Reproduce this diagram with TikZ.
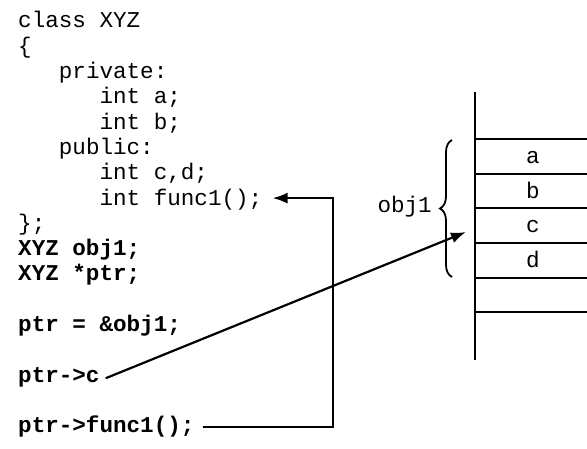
\documentclass[tikz,border=0pt]{standalone}
\usepackage{fontspec}
\setmonofont{Liberation Mono}
\usetikzlibrary{arrows.meta,decorations.pathreplacing}
\begin{document}
\begin{tikzpicture}[x=1pt,y=-1pt,
  code/.style={font=\ttfamily\fontsize{22.6}{24}\selectfont, anchor=base west, inner sep=0pt},
  codeb/.style={code, font=\ttfamily\bfseries\fontsize{22.6}{24}\selectfont},
  cell/.style={font=\ttfamily\fontsize{22.6}{24}\selectfont, anchor=base, inner sep=0pt},
  mem/.style={line width=1.6pt},
  conn/.style={line width=2.2pt, -{Latex[length=15pt,width=11pt]}}]
\useasboundingbox (0,0) rectangle (587,449);
% code listing
\node[code] (l1) at (18,28) {class XYZ};
\node[code] (l2) at (18,53.3) {\{};
\node[code] (l3) at (18,78.6) {\ \ \ private:};
\node[code] (l4) at (18,103.9) {\ \ \ \ \ \ int a;};
\node[code] (l5) at (18,129.2) {\ \ \ \ \ \ int b;};
\node[code] (l6) at (18,154.5) {\ \ \ public:};
\node[code] (l7) at (18,179.8) {\ \ \ \ \ \ int c,d;};
\node[code] (l8) at (18,205.1) {\ \ \ \ \ \ int func1();};
\node[code] (l9) at (18,230.4) {\};};
\node[codeb] (l10) at (18,255.7) {XYZ obj1;};
\node[codeb] (l11) at (18,281) {XYZ *ptr;};
\node[codeb] (l12) at (18,331.6) {ptr = \&obj1;};
\node[codeb] (ptrc) at (18,382.2) {ptr->c};
\node[codeb] (ptrf) at (18,432.8) {ptr->func1();};
% memory
\draw[mem] (475,92) -- (475,360);
\foreach \yy in {139,174,208,243,278,312}
  \draw[mem] (475,\yy) -- (587,\yy);
\node[cell] (ca) at (533,164) {a};
\node[cell] (cb) at (533,199) {b};
\node[cell] (cc) at (533,233) {c};
\node[cell] (cd) at (533,268) {d};
\node[font=\ttfamily\fontsize{22.6}{24}\selectfont, anchor=east, inner sep=0pt] (obj) at (432,207) {obj1};
\draw[line width=1.8pt, decorate, decoration={brace, amplitude=12pt}] (452,277) -- (452,140);
% connectors
\coordinate (ctip) at (466,232);
\draw[conn] ([xshift=6pt,yshift=4pt]ptrc.base east) -- (ctip);
\coordinate (fx) at (333,0);
\draw[conn] ([xshift=8pt,yshift=6pt]ptrf.base east) -| ([yshift=7pt]fx |- l8.base) -- ([xshift=10pt,yshift=7pt]l8.base east);
\end{tikzpicture}
\end{document}
